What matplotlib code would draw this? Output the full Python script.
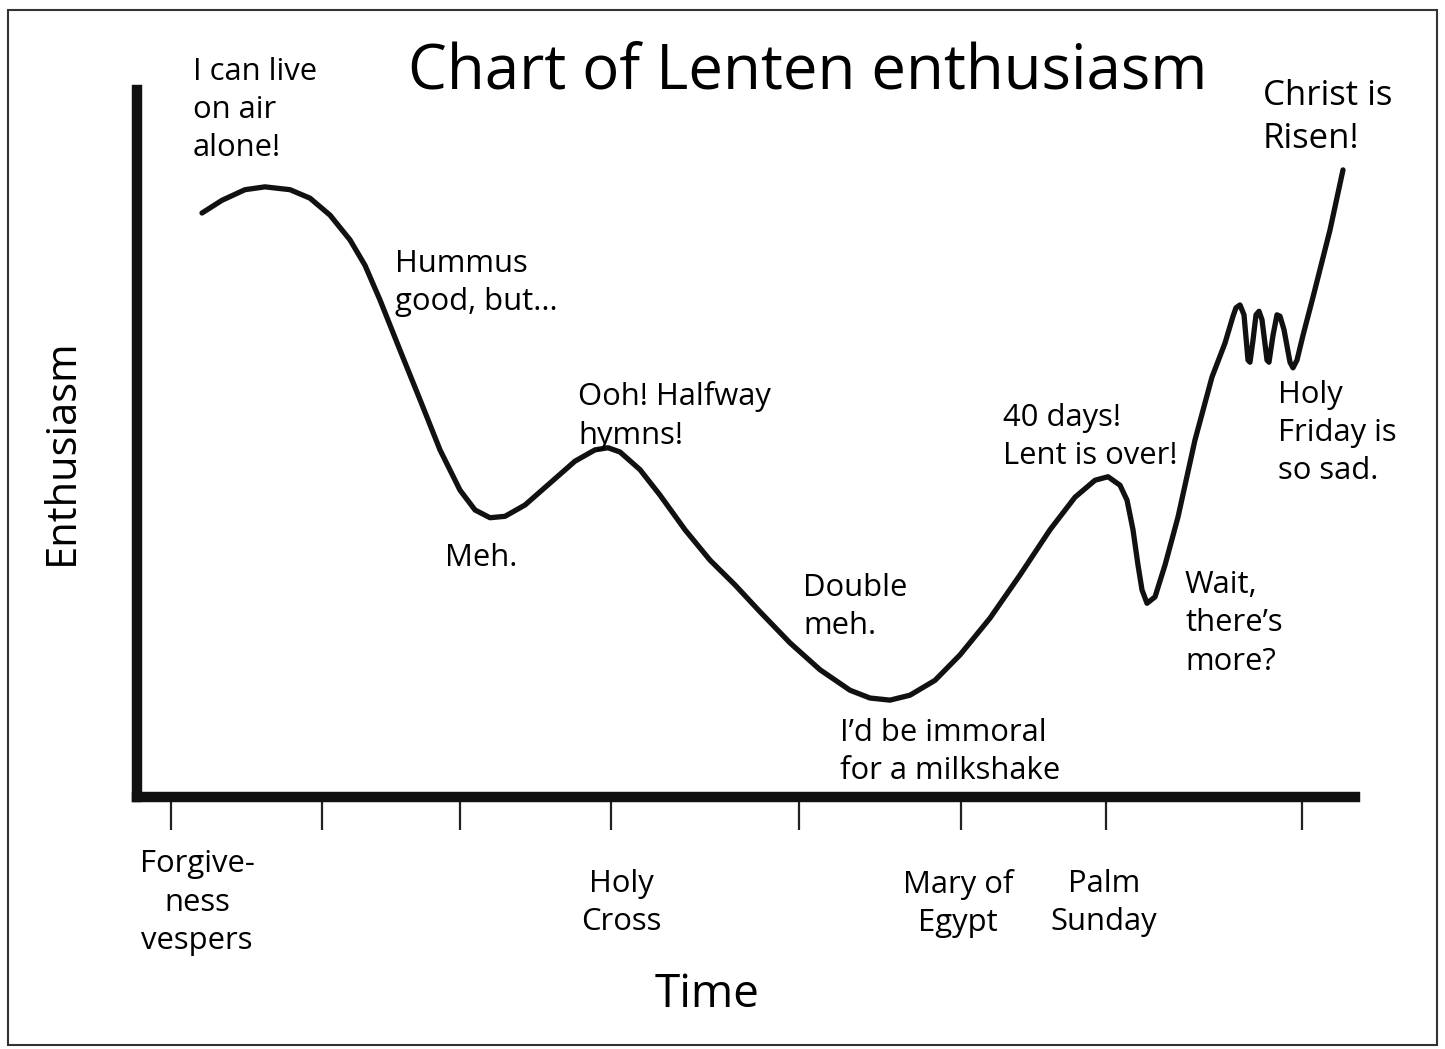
import matplotlib
matplotlib.use('Agg')
import matplotlib.pyplot as plt
from matplotlib.patches import Rectangle

plt.rcParams['font.family'] = ['Open Sans', 'DejaVu Sans']

# Time in days since Forgiveness vespers (roughly), enthusiasm on a 0-10 scale
days = [2.60, 3.40, 4.32, 5.12, 6.12, 6.92, 7.72, 8.52, 9.12, 9.72,
        10.52, 11.32, 12.12, 12.92, 13.52, 14.12, 14.72, 15.52, 16.52, 17.52,
        18.32, 18.84, 19.32, 20.12, 20.92, 21.92, 22.92, 23.92, 24.92, 26.12,
        27.32, 28.52, 29.32, 30.12, 30.92, 31.92, 32.92, 34.12, 35.32, 36.52,
        37.52, 38.32, 38.84, 39.32, 39.60, 39.84, 40.04, 40.20, 40.40, 40.72,
        41.12, 41.64, 42.32, 43.00, 43.52, 43.84, 43.96, 44.12, 44.28, 44.44,
        44.52, 44.64, 44.76, 44.88, 45.00, 45.20, 45.28, 45.44, 45.60, 45.72,
        45.88, 46.12, 46.24, 46.40, 46.64, 47.04, 47.72, 48.24]
enthusiasm = [8.26, 8.44, 8.59, 8.63, 8.59, 8.47, 8.23, 7.88, 7.52, 7.03,
              6.32, 5.62, 4.91, 4.34, 4.06, 3.95, 3.97, 4.13, 4.44, 4.75,
              4.91, 4.94, 4.88, 4.63, 4.27, 3.78, 3.35, 3.00, 2.62, 2.18,
              1.80, 1.51, 1.40, 1.37, 1.44, 1.65, 2.01, 2.53, 3.14, 3.78,
              4.24, 4.48, 4.53, 4.41, 4.20, 3.78, 3.28, 2.93, 2.74, 2.83,
              3.28, 3.96, 5.05, 5.94, 6.42, 6.80, 6.92, 6.96, 6.82, 6.18,
              6.15, 6.46, 6.82, 6.87, 6.75, 6.18, 6.15, 6.53, 6.82, 6.80,
              6.61, 6.15, 6.07, 6.18, 6.53, 7.07, 8.02, 8.87]

tick_days = [1.36, 7.40, 12.92, 18.96, 26.48, 32.96, 38.76, 46.60]

milestones = ['Forgive-\nness\nvespers', 'Holy\nCross', 'Mary of\nEgypt', 'Palm\nSunday']
milestone_pos = [(2.40, -0.74), (19.36, -1.02), (32.84, -1.02), (38.68, -1.02)]

notes = ['I can live\non air\nalone!', 'Hummus\ngood, but...', 'Meh.',
         'Ooh! Halfway\nhymns!', 'Double\nmeh.', 'I\u2019d be immoral\nfor a milkshake',
         '40 days!\nLent is over!', 'Wait,\nthere\u2019s\nmore?',
         'Holy\nFriday is\nso sad.', 'Christ is\nRisen!']
note_pos = [(2.24, 10.47), (10.32, 7.75), (12.32, 3.59), (17.64, 5.88),
            (26.64, 3.17), (28.12, 1.12), (34.64, 5.57), (41.92, 3.21),
            (45.64, 5.90), (45.04, 10.16)]

W, H = 1445, 1049
fig = plt.figure(figsize=(W / 100, H / 100), dpi=100)
ax = fig.add_axes([137 / W, (H - 797) / H, (1355 - 137) / W, (797 - 90) / H])

ax.plot(days, enthusiasm, color='#111111', lw=3.8,
        solid_joinstyle='round', solid_capstyle='round')

ax.set_xlim(0, 48.72)
ax.set_ylim(0, 10.0)

for side in ['top', 'right']:
    ax.spines[side].set_visible(False)
for side in ['left', 'bottom']:
    ax.spines[side].set_linewidth(7.5)
    ax.spines[side].set_color('#111111')
    ax.spines[side].set_capstyle('projecting')

ax.set_xticks(tick_days)
ax.set_xticklabels([])
ax.set_yticks([])
ax.tick_params(axis='x', direction='out', length=24, width=1.6, color='#222222')

for txt, (x, y) in zip(milestones, milestone_pos):
    ax.text(x, y, txt, ha='center', va='top', fontsize=22.3,
            linespacing=1.36, clip_on=False)

for txt, (x, y) in zip(notes, note_pos):
    size = 25 if txt.startswith('Christ') else 22.3
    ax.text(x, y, txt, ha='left', va='top', fontsize=size,
            linespacing=1.36, clip_on=False)

fig.text(808 / W, 1 - 72 / H, 'Chart of Lenten enthusiasm', ha='center',
         va='center', fontsize=44.5)
fig.text(62 / W, 1 - 452 / H, 'Enthusiasm', rotation=90, ha='center',
         va='center', fontsize=30)
fig.text(707 / W, 1 - 995 / H, 'Time', ha='center', va='center', fontsize=33)

fig.patches.append(Rectangle((8 / W, 1 - 1045 / H), (1437 - 8) / W, (1045 - 10) / H,
                             transform=fig.transFigure, fill=False,
                             edgecolor='#333333', lw=1.5))

fig.savefig('out.png', dpi=100)
